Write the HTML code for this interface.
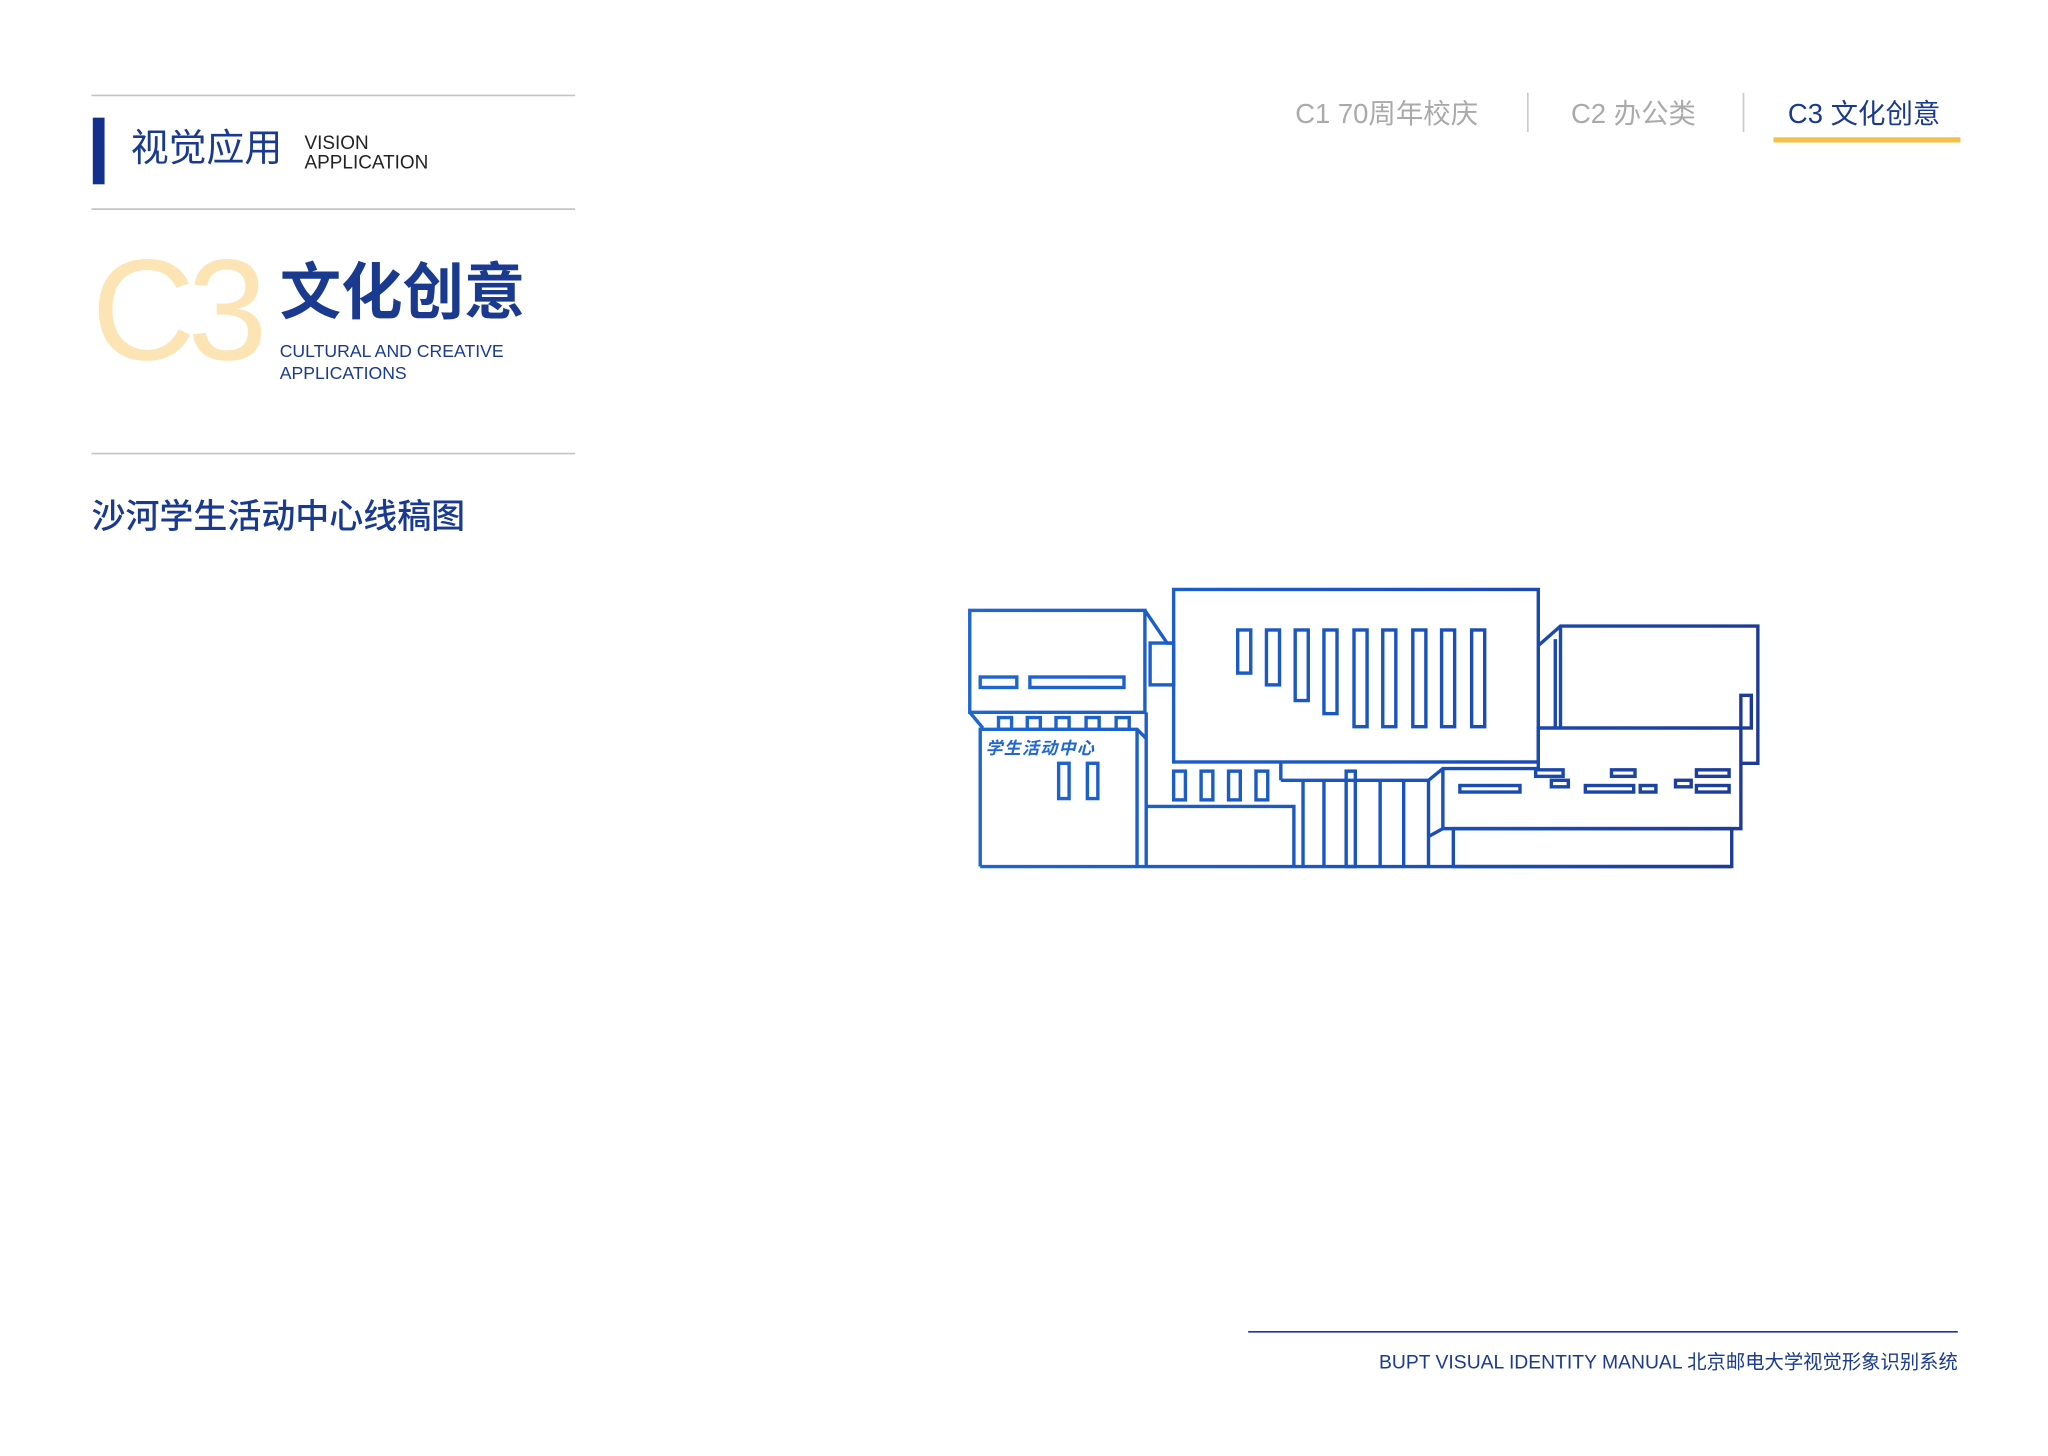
<!DOCTYPE html>
<html><head><meta charset="utf-8"><style>
html,body{margin:0;padding:0;background:#fff;width:2048px;height:1456px;overflow:hidden}
svg{display:block}
text{font-family:"Liberation Sans","Noto Sans CJK SC",sans-serif}
</style></head><body>
<svg width="2048" height="1456" viewBox="0 0 1567 1114" xmlns="http://www.w3.org/2000/svg">
<defs>
<linearGradient id="g" x1="740" y1="0" x2="1350" y2="0" gradientUnits="userSpaceOnUse">
<stop offset="0" stop-color="#1f66d0"/><stop offset="0.5" stop-color="#1a55bf"/><stop offset="1" stop-color="#1c3a96"/>
</linearGradient>
</defs>
<g stroke="#c4c4c4" stroke-width="1.3">
<line x1="70" y1="73" x2="440" y2="73"/><line x1="70" y1="160" x2="440" y2="160"/><line x1="70" y1="347" x2="440" y2="347"/>
</g>
<rect x="71" y="90" width="9" height="51" fill="#12308c"/>
<text x="100" y="123" font-size="29" fill="#1a3a8f">视觉应用</text>
<text x="233" y="114" font-size="14.5" fill="#222">VISION</text>
<text x="233" y="129" font-size="14.5" fill="#222">APPLICATION</text>
<text x="70" y="275" font-size="110" fill="#fde4b4" letter-spacing="-6">C3</text>
<text x="214" y="240" font-size="47" font-weight="bold" fill="#1a3a8f">文化创意</text>
<text x="214" y="273" font-size="13.5" fill="#1a3a8f">CULTURAL AND CREATIVE</text>
<text x="214" y="290" font-size="13.5" fill="#1a3a8f">APPLICATIONS</text>
<text x="70" y="404" font-size="26" font-weight="500" fill="#1a3a8f">沙河学生活动中心线稿图</text>
<text x="991" y="94" font-size="21" fill="#aaa">C1  70周年校庆</text>
<line x1="1169" y1="71" x2="1169" y2="101" stroke="#ccc" stroke-width="1.3"/>
<text x="1202" y="94" font-size="21" fill="#aaa">C2  办公类</text>
<line x1="1334" y1="71" x2="1334" y2="101" stroke="#ccc" stroke-width="1.3"/>
<text x="1368" y="94" font-size="21" fill="#1a3a8f">C3  文化创意</text>
<rect x="1357" y="105" width="143" height="4" fill="#f7bf45"/>
<line x1="955" y1="1019" x2="1498" y2="1019" stroke="#1a3a8f" stroke-width="1.3"/>
<text x="1498" y="1047" font-size="14.8" fill="#1a3a8f" text-anchor="end">BUPT VISUAL IDENTITY MANUAL 北京邮电大学视觉形象识别系统</text>
<g fill="none" stroke="url(#g)" stroke-width="2.6" stroke-linejoin="miter">
<rect x="742" y="467" width="134" height="78"/>
<polyline points="876,467 893,492 898,492"/>
<rect x="880" y="492" width="18" height="32"/>
<rect x="750" y="518" width="28" height="8"/>
<rect x="788" y="518" width="72" height="8"/>
<polyline points="742,545 752,557"/>
<rect x="764" y="549" width="10" height="9"/><rect x="786" y="549" width="10" height="9"/><rect x="808" y="549" width="10" height="9"/><rect x="831" y="549" width="10" height="9"/><rect x="854" y="549" width="10" height="9"/>
<polyline points="750,663 750,558 870,558 877,565"/>
<line x1="870" y1="558" x2="870" y2="663"/>
<line x1="877" y1="545" x2="877" y2="663"/>
<rect x="810" y="584" width="8" height="27"/><rect x="832" y="584" width="8" height="27"/>
<line x1="750" y1="663" x2="1325" y2="663"/>
<rect x="898" y="451" width="279" height="132"/>
<rect x="947" y="482" width="10" height="33"/>
<rect x="969" y="482" width="10" height="42"/>
<rect x="991" y="482" width="10" height="54"/>
<rect x="1013" y="482" width="10" height="64"/>
<rect x="1036" y="482" width="10" height="74"/>
<rect x="1058" y="482" width="10" height="74"/>
<rect x="1081" y="482" width="10" height="74"/>
<rect x="1103" y="482" width="10" height="74"/>
<rect x="1126" y="482" width="10" height="74"/>
<rect x="898" y="590" width="9" height="22"/><rect x="919" y="590" width="9" height="22"/><rect x="940" y="590" width="9" height="22"/><rect x="961" y="590" width="9" height="22"/>
<polyline points="877,617 990,617 990,663"/>
<line x1="980" y1="583" x2="980" y2="597"/>
<polyline points="980,597 1093,597"/>
<line x1="997" y1="597" x2="997" y2="663"/>
<line x1="1013" y1="597" x2="1013" y2="663"/>
<rect x="1030" y="590" width="7" height="73"/>
<line x1="1056" y1="597" x2="1056" y2="663"/>
<line x1="1074" y1="597" x2="1074" y2="663"/>
<line x1="1093" y1="597" x2="1093" y2="663"/>
<polyline points="1177,494 1194,479 1345,479 1345,584 1332,584"/>
<line x1="1194" y1="479" x2="1194" y2="557"/>
<line x1="1190" y1="489" x2="1190" y2="557"/>
<rect x="1332" y="532" width="8" height="25"/>
<polyline points="1093,597 1104,588 1177,588 1177,557 1332,557 1332,634 1104,634 1104,588"/>
<polyline points="1093,640 1104,634"/>
<rect x="1112" y="634" width="213" height="29"/>
<rect x="1117" y="601" width="46" height="5"/>
<rect x="1175" y="589" width="21" height="5"/>
<rect x="1187" y="597" width="13" height="5"/>
<rect x="1213" y="601" width="37" height="5"/>
<rect x="1255" y="601" width="12" height="5"/>
<rect x="1233" y="589" width="18" height="5"/>
<rect x="1282" y="597" width="12" height="5"/>
<rect x="1298" y="589" width="25" height="5"/>
<rect x="1298" y="601" width="25" height="5"/>
</g>
<text x="754" y="577" font-size="13" font-weight="bold" fill="#1f66d0" font-style="italic" letter-spacing="1">学生活动中心</text>
</svg>
</body></html>
